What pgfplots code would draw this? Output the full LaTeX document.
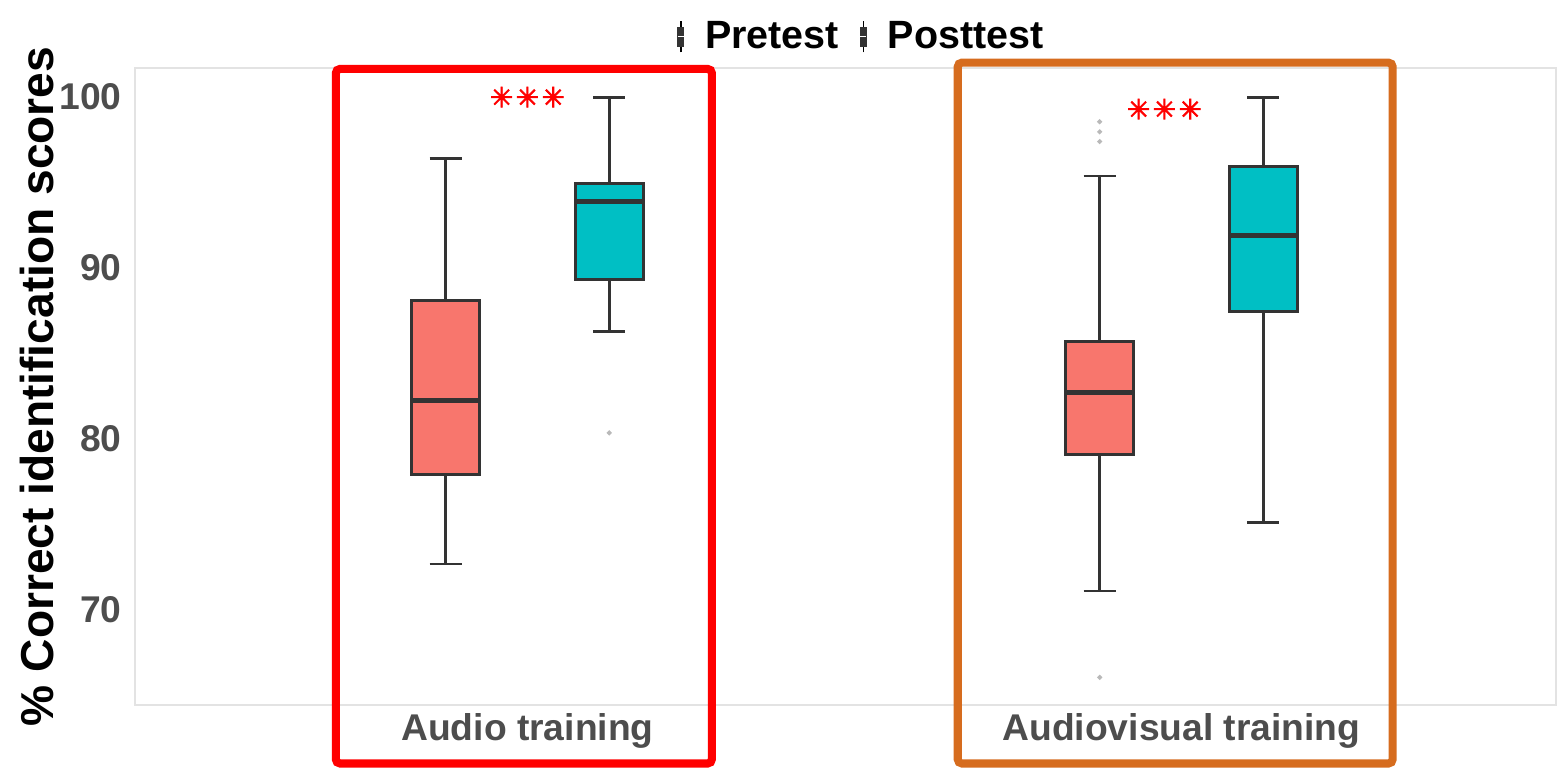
\documentclass[border=0pt]{standalone}
\usepackage{pgfplots}
\pgfplotsset{compat=1.18}
\usepackage{fontspec}
\setmainfont{Liberation Sans}
\newfontfamily\symfont[FakeBold=2.5]{DejaVu Sans}
\definecolor{pre}{HTML}{F8766D}
\definecolor{post}{HTML}{00BFC4}
\definecolor{boxline}{HTML}{333333}
\definecolor{ticklab}{HTML}{4D4D4D}
\definecolor{orangebox}{RGB}{214,108,30}
\begin{document}
\begin{tikzpicture}
\begin{axis}[
  at={(0,0)}, anchor=origin,
  scale only axis,
  width=511.4pt, height=229.1pt,
  xmin=0.4, xmax=2.573,
  ymin=64.44, ymax=101.7,
  clip=false,
  unbounded coords=jump,
  axis line style={gray!22, line width=0.6pt},
  xtick={1,2},
  xticklabels={Audio training, Audiovisual training},
  ytick={70,80,90,100},
  tick style={draw=none},
  /pgf/number format/assume math mode=true,
  ticklabel style={font=\fontsize{13.4}{14}\selectfont\bfseries, text=ticklab},
  xticklabel style={anchor=north, inner sep=0pt, yshift=-2.8pt},
  yticklabel style={anchor=east, inner sep=0pt, xshift=-4.6pt},
  ylabel={\% Correct identification scores},
  every axis y label/.style={at={(axis description cs:-0.069,0.5)}, rotate=90, anchor=center,
    font=\fontsize{16.6}{18}\selectfont\bfseries, text=black},
  legend style={at={(axis description cs:0.5123,1.049)}, anchor=center,
    draw=none, fill=none, legend columns=2,
    font=\fontsize{14.2}{15}\selectfont\bfseries,
    /tikz/every odd column/.append style={column sep=5.5pt},
    /tikz/every even column/.append style={column sep=5.5pt}},
]
\addlegendimage{legend image code/.code={
    \draw[line width=0.6pt, black] (1.1pt,-5.6pt)--(1.1pt,5.6pt);
    \fill[black!80] (0,-3.3pt) rectangle (2.2pt,3.3pt);
    \draw[white, line width=0.4pt] (0,0)--(2.2pt,0);}}
\addlegendentry{Pretest}
\addlegendimage{legend image code/.code={
    \draw[line width=0.6pt, black] (1.1pt,-5.6pt)--(1.1pt,5.6pt);
    \fill[black!80] (0,-3.3pt) rectangle (2.2pt,3.3pt);
    \draw[white, line width=0.4pt] (0,0)--(2.2pt,0);}}
\addlegendentry{Posttest}

% whiskers and caps (x, y); nan breaks the line
\addplot[boxline, line width=1.0pt, forget plot] coordinates {
 (0.875,88.1) (0.875,96.4) (nan,nan) (0.8505,96.4) (0.8995,96.4) (nan,nan)
 (0.875,77.9) (0.875,72.67) (nan,nan) (0.8505,72.67) (0.8995,72.67) (nan,nan)
 (1.125,94.95) (1.125,100) (nan,nan) (1.1005,100) (1.1495,100) (nan,nan)
 (1.125,89.34) (1.125,86.3) (nan,nan) (1.1005,86.3) (1.1495,86.3) (nan,nan)
 (1.875,85.69) (1.875,95.38) (nan,nan) (1.8505,95.38) (1.8995,95.38) (nan,nan)
 (1.875,79.1) (1.875,71.1) (nan,nan) (1.8505,71.1) (1.8995,71.1) (nan,nan)
 (2.125,95.92) (2.125,100) (nan,nan) (2.1005,100) (2.1495,100) (nan,nan)
 (2.125,87.45) (2.125,75.1) (nan,nan) (2.1005,75.1) (2.1495,75.1)
};
% boxes (lower quartile to upper quartile)
\addplot[fill=pre, draw=boxline, line width=1.1pt, forget plot] coordinates {(0.823,77.9) (0.927,77.9) (0.927,88.1) (0.823,88.1)} -- cycle;
\addplot[fill=post, draw=boxline, line width=1.1pt, forget plot] coordinates {(1.073,89.34) (1.177,89.34) (1.177,94.95) (1.073,94.95)} -- cycle;
\addplot[fill=pre, draw=boxline, line width=1.1pt, forget plot] coordinates {(1.823,79.1) (1.927,79.1) (1.927,85.69) (1.823,85.69)} -- cycle;
\addplot[fill=post, draw=boxline, line width=1.1pt, forget plot] coordinates {(2.073,87.45) (2.177,87.45) (2.177,95.92) (2.073,95.92)} -- cycle;
% medians
\addplot[boxline, line width=1.7pt, forget plot] coordinates {
 (0.823,82.24) (0.927,82.24) (nan,nan)
 (1.073,93.9) (1.177,93.9) (nan,nan)
 (1.823,82.73) (1.927,82.73) (nan,nan)
 (2.073,91.9) (2.177,91.9)
};
% outliers
\addplot[only marks, mark=*, mark size=0.7pt, gray!55, forget plot] coordinates {
 (1.125,80.35) (1.875,97.4) (1.875,97.97) (1.875,98.56) (1.875,66.04)
};

% highlight rectangles
\draw[red, line width=2.9pt, rounded corners=1.5pt]
  (axis cs:0.707,61.0) rectangle (axis cs:1.282,101.65);
\draw[orangebox, line width=2.9pt, rounded corners=1.5pt]
  (axis cs:1.658,61.0) rectangle (axis cs:2.323,102.02);
% significance stars
\node[text=red, font=\symfont\fontsize{10}{10}\selectfont] at (axis cs:1.0,100.0) {✳\kern0.9pt✳\kern0.9pt✳};
\node[text=red, font=\symfont\fontsize{10}{10}\selectfont] at (axis cs:1.974,99.3) {✳\kern0.9pt✳\kern0.9pt✳};
\end{axis}
\path[use as bounding box] (-48.6pt,-20.9pt) rectangle (511.4pt,253.6pt);
\end{tikzpicture}
\end{document}
